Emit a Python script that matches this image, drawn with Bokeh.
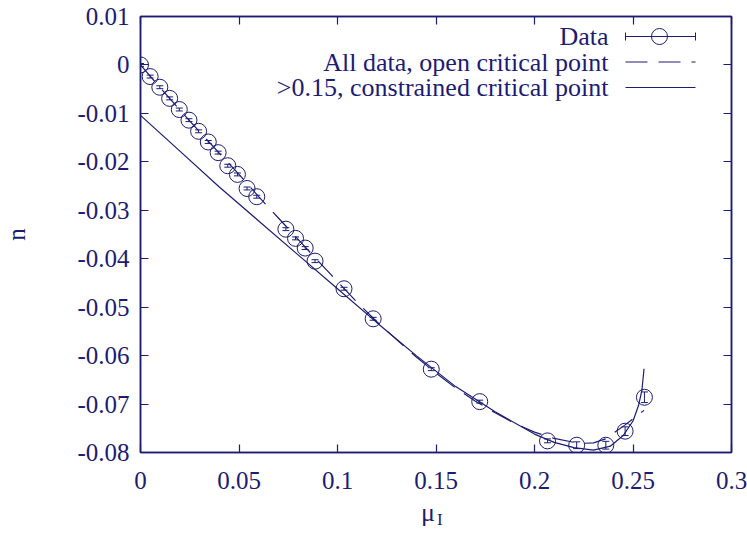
from bokeh.plotting import figure
from bokeh.models import (Range1d, LinearAxis, Whisker, TeeHead, ColumnDataSource,
                          Label, Arrow, BoxAnnotation, FixedTicker, Div)
from bokeh.layouts import column
from bokeh.embed import file_html
from bokeh.resources import INLINE

# ---------------- data ----------------
mu_data = [0.0, 0.0049, 0.0098, 0.0148, 0.0197, 0.0246, 0.0295, 0.0344, 0.0394,
           0.0443, 0.0492, 0.0541, 0.0590, 0.0738, 0.0787, 0.0836, 0.0886,
           0.1033, 0.1181, 0.1476, 0.1722, 0.2066, 0.2214, 0.2362, 0.2460, 0.2558]
n_data = [0.0, -0.0024, -0.0046, -0.0069, -0.0092, -0.0114, -0.0137, -0.0159, -0.0181,
          -0.0208, -0.0226, -0.0255, -0.0272, -0.0339, -0.0358, -0.0378, -0.0405,
          -0.0462, -0.0524, -0.0628, -0.0695, -0.0776, -0.0785, -0.0785, -0.0756, -0.0686]
n_err = [0.0003, 0.0003, 0.0003, 0.0003, 0.0003, 0.0003, 0.0003, 0.0003, 0.0003,
         0.0003, 0.0003, 0.0003, 0.0003, 0.0003, 0.0003, 0.0003, 0.0003,
         0.0003, 0.0003, 0.0003, 0.0003, 0.0004, 0.0007, 0.0008, 0.0009, 0.0011]

# fit: all data, open critical point (dashed)
mu_fit_all = [0.0, 0.01, 0.02, 0.03, 0.04, 0.05, 0.06, 0.07, 0.08, 0.09, 0.10, 0.11,
              0.12, 0.13, 0.14, 0.15, 0.16, 0.17, 0.18, 0.19, 0.20, 0.21, 0.22, 0.225,
              0.23, 0.236, 0.2457, 0.2556]
n_fit_all = [0.0, -0.0047, -0.0093, -0.0138, -0.0182, -0.0226, -0.0272, -0.0316, -0.0360,
             -0.0404, -0.0447, -0.0490, -0.0530, -0.0567, -0.0603, -0.0636, -0.0667,
             -0.0694, -0.0718, -0.0740, -0.0758, -0.0771, -0.0779, -0.0781, -0.0780,
             -0.0772, -0.0744, -0.0713]

# fit: >0.15, constrained critical point (solid)
mu_fit_hi = [0.0, 0.02, 0.04, 0.06, 0.08, 0.10, 0.12, 0.14, 0.16, 0.18, 0.20, 0.21,
             0.22, 0.23, 0.2385, 0.245, 0.25, 0.2528, 0.2545, 0.2556]
n_fit_hi = [-0.0104, -0.0178, -0.0252, -0.0322, -0.0392, -0.0462, -0.0532, -0.0600,
            -0.0664, -0.0716, -0.0762, -0.0779, -0.0790, -0.0795, -0.0787, -0.0765,
            -0.0735, -0.0703, -0.0672, -0.0627]

x_ticks = [0.0, 0.05, 0.1, 0.15, 0.2, 0.25, 0.3]
x_tick_labels = ["0", "0.05", "0.1", "0.15", "0.2", "0.25", "0.3"]
y_ticks = [0.01, 0.0, -0.01, -0.02, -0.03, -0.04, -0.05, -0.06, -0.07, -0.08]
y_tick_labels = ["0.01", "0", "-0.01", "-0.02", "-0.03", "-0.04", "-0.05",
                 "-0.06", "-0.07", "-0.08"]

legend_labels = ["Data", "All data, open critical point",
                 ">0.15, constrained critical point"]
x_label_main = "\u03bc"
x_label_sub = "I"
y_label = "n"

# ---------------- style ----------------
INK = "#1c1c73"
FONT = "Liberation Serif"
FS = "25px"
FS_LEG = "26px"

p = figure(width=747, height=500, output_backend="svg", toolbar_location=None,
           x_range=Range1d(0, 0.3), y_range=Range1d(-0.08, 0.01),
           min_border_left=140, min_border_right=16, min_border_top=16,
           min_border_bottom=48, background_fill_color="white",
           border_fill_color="white")
p.grid.visible = False
p.outline_line_color = INK
p.outline_line_width = 1.5


def style_axis(ax, ticks, labels, show):
    ax.ticker = FixedTicker(ticks=ticks)
    ax.major_label_overrides = {t: (l if show else "") for t, l in zip(ticks, labels)}
    ax.minor_tick_line_color = None
    ax.major_tick_in = 8
    ax.major_tick_out = 0
    ax.major_tick_line_color = INK
    ax.major_tick_line_width = 1.2
    ax.axis_line_color = INK
    ax.axis_line_width = 1.5
    ax.major_label_text_font = FONT
    ax.major_label_text_font_size = FS if show else "0px"
    ax.major_label_text_color = INK
    ax.major_label_standoff = 19 if show else 0


style_axis(p.xaxis[0], x_ticks, x_tick_labels, True)
style_axis(p.yaxis[0], y_ticks, y_tick_labels, True)
p.yaxis[0].major_label_standoff = 11
p.yaxis[0].axis_label = y_label
p.yaxis[0].axis_label_text_font = FONT
p.yaxis[0].axis_label_text_font_size = FS
p.yaxis[0].axis_label_text_font_style = "normal"
p.yaxis[0].axis_label_text_color = INK
p.yaxis[0].axis_label_standoff = 44

top_ax = LinearAxis()
style_axis(top_ax, x_ticks, x_tick_labels, False)
p.add_layout(top_ax, "above")
right_ax = LinearAxis()
style_axis(right_ax, y_ticks, y_tick_labels, False)
p.add_layout(right_ax, "right")

# ---------------- curves ----------------
p.line(mu_fit_hi, n_fit_hi, line_color=INK, line_width=1.2)
p.line(mu_fit_all, n_fit_all, line_color=INK, line_width=1.2, line_dash="22 11")

# ---------------- data with error bars ----------------
src = ColumnDataSource(dict(
    mu=mu_data, n=n_data,
    lo=[v - e for v, e in zip(n_data, n_err)],
    up=[v + e for v, e in zip(n_data, n_err)],
))
p.add_layout(Whisker(source=src, base="mu", lower="lo", upper="up", dimension="height",
                     line_color=INK, line_width=1,
                     lower_head=TeeHead(size=7, line_color=INK, line_width=1),
                     upper_head=TeeHead(size=7, line_color=INK, line_width=1)))
p.scatter("mu", "n", source=src, marker="circle", size=16, fill_color=None,
          line_color=INK, line_width=1)

# ---------------- custom legend (text right, sample on the right) ----------------
row_y = [416, 390.5, 365]
text_right = 468
s_left, s_right, s_mid = 485, 555, 519
for lab, yy in zip(legend_labels, row_y):
    p.add_layout(Label(x=text_right, y=yy, x_units="screen", y_units="screen",
                       text=lab, text_align="right", text_baseline="middle",
                       text_font=FONT, text_font_size=FS_LEG, text_color=INK))
p.add_layout(Arrow(x_start=s_left, y_start=row_y[0], x_end=s_right, y_end=row_y[0],
                   start_units="screen", end_units="screen",
                   start=TeeHead(size=8, line_color=INK, line_width=1),
                   end=TeeHead(size=8, line_color=INK, line_width=1),
                   line_color=INK, line_width=1))
p.add_layout(BoxAnnotation(left=s_mid - 8, right=s_mid + 8,
                           bottom=row_y[0] - 8, top=row_y[0] + 8,
                           left_units="screen", right_units="screen",
                           bottom_units="screen", top_units="screen",
                           border_radius=8, fill_alpha=0, line_color=INK,
                           line_width=1, line_alpha=1))
p.add_layout(Arrow(x_start=s_left, y_start=row_y[1], x_end=s_right, y_end=row_y[1],
                   start_units="screen", end_units="screen", end=None,
                   line_color=INK, line_width=1.2, line_dash="22 11"))
p.add_layout(Arrow(x_start=s_left, y_start=row_y[2], x_end=s_right, y_end=row_y[2],
                   start_units="screen", end_units="screen", end=None,
                   line_color=INK, line_width=1.2))

# ---------------- x axis label: mu with subscript I (real HTML text) ----------------
xlab_html = (
    '<div style="position:relative;width:747px;height:33px;'
    "font-family:'Liberation Serif',serif;color:" + INK + ';">'
    '<span style="position:absolute;left:421px;top:0px;font-size:26px;'
    'line-height:26px;white-space:nowrap;">' + x_label_main +
    '<sub style="font-size:17px;line-height:0;vertical-align:-4px;margin-left:2px;">'
    + x_label_sub + '</sub></span></div>'
)
xlab = Div(text=xlab_html, width=747, height=33, margin=0)

layout = column(p, xlab, spacing=0)
open("out.html", "w").write(file_html(layout, INLINE))
